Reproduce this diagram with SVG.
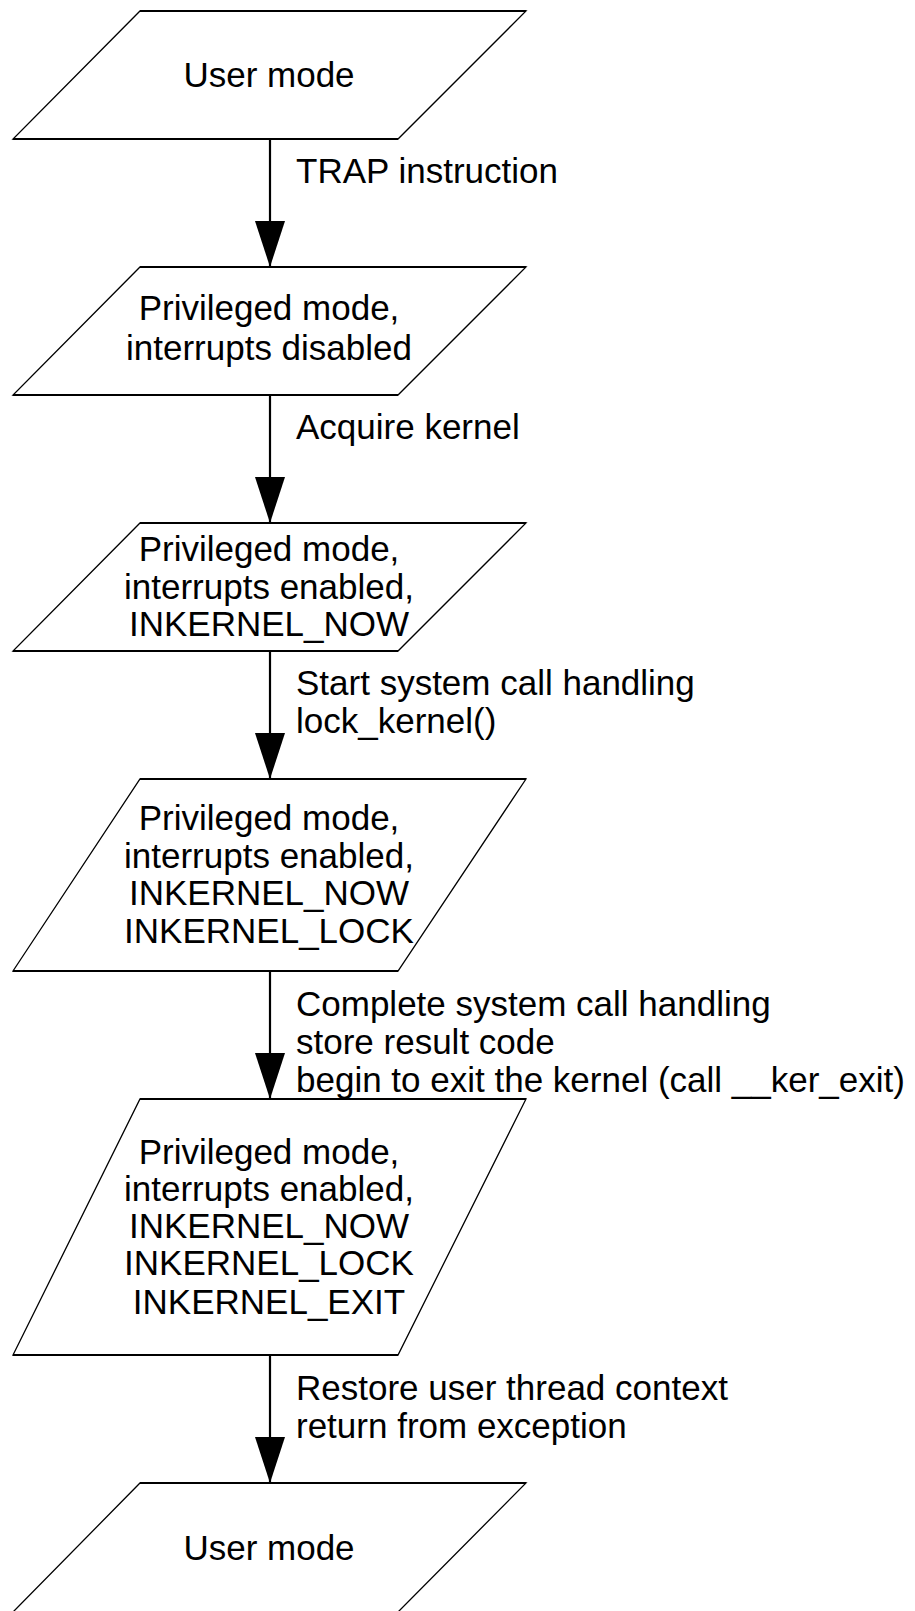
<svg xmlns="http://www.w3.org/2000/svg" width="915" height="1611" viewBox="0 0 915 1611">
<style>
.shape{fill:#fff;stroke:#000;stroke-width:1.3}
.edge{stroke:#000;stroke-width:2.2}
.t{font-family:"Liberation Sans",Arial,sans-serif;font-size:35px;fill:#000;text-anchor:middle}
.l{font-family:"Liberation Sans",Arial,sans-serif;font-size:35px;fill:#000}
.conn{stroke:#000;stroke-width:2.2;fill:none}
.head{fill:#000;stroke:none}
</style>
<rect width="915" height="1611" fill="#fff"/>
<g id="connectors">
<line class="conn" x1="270" y1="139" x2="270" y2="267"/>
<polygon class="head" points="255,221 285,221 270,267"/>
<line class="conn" x1="270" y1="395" x2="270" y2="523"/>
<polygon class="head" points="255,477 285,477 270,523"/>
<line class="conn" x1="270" y1="651" x2="270" y2="779"/>
<polygon class="head" points="255,733 285,733 270,779"/>
<line class="conn" x1="270" y1="971" x2="270" y2="1099"/>
<polygon class="head" points="255,1053 285,1053 270,1099"/>
<line class="conn" x1="270" y1="1355" x2="270" y2="1483"/>
<polygon class="head" points="255,1437 285,1437 270,1483"/>
</g>
<g id="labels">
<text class="l" x="296" y="183">TRAP instruction</text>
<text class="l" x="296" y="439">Acquire kernel</text>
<text class="l" x="296" y="695">Start system call handling</text>
<text class="l" x="296" y="733">lock_kernel()</text>
<text class="l" x="296" y="1016">Complete system call handling</text>
<text class="l" x="296" y="1054">store result code</text>
<text class="l" x="296" y="1092">begin to exit the kernel (call __ker_exit)</text>
<text class="l" x="296" y="1400">Restore user thread context</text>
<text class="l" x="296" y="1438">return from exception</text>
</g>
<g id="node1">
<polygon class="shape" points="140,11 526,11 398,139 13,139"/>
<line class="edge" x1="140" y1="11" x2="526" y2="11"/>
<line class="edge" x1="13" y1="139" x2="398" y2="139"/>
<text class="t" x="269" y="87">User mode</text>
</g>
<g id="node2">
<polygon class="shape" points="140,267 526,267 398,395 13,395"/>
<line class="edge" x1="140" y1="267" x2="526" y2="267"/>
<line class="edge" x1="13" y1="395" x2="398" y2="395"/>
<text class="t" x="269" y="320">Privileged mode,</text>
<text class="t" x="269" y="360">interrupts disabled</text>
</g>
<g id="node3">
<polygon class="shape" points="140,523 526,523 398,651 13,651"/>
<line class="edge" x1="140" y1="523" x2="526" y2="523"/>
<line class="edge" x1="13" y1="651" x2="398" y2="651"/>
<text class="t" x="269" y="561">Privileged mode,</text>
<text class="t" x="269" y="599">interrupts enabled,</text>
<text class="t" x="269" y="636">INKERNEL_NOW</text>
</g>
<g id="node4">
<polygon class="shape" points="140,779 526,779 398,971 13,971"/>
<line class="edge" x1="140" y1="779" x2="526" y2="779"/>
<line class="edge" x1="13" y1="971" x2="398" y2="971"/>
<text class="t" x="269" y="830">Privileged mode,</text>
<text class="t" x="269" y="868">interrupts enabled,</text>
<text class="t" x="269" y="905">INKERNEL_NOW</text>
<text class="t" x="269" y="943">INKERNEL_LOCK</text>
</g>
<g id="node5">
<polygon class="shape" points="140,1099 526,1099 398,1355 13,1355"/>
<line class="edge" x1="140" y1="1099" x2="526" y2="1099"/>
<line class="edge" x1="13" y1="1355" x2="398" y2="1355"/>
<text class="t" x="269" y="1164">Privileged mode,</text>
<text class="t" x="269" y="1201">interrupts enabled,</text>
<text class="t" x="269" y="1238">INKERNEL_NOW</text>
<text class="t" x="269" y="1275">INKERNEL_LOCK</text>
<text class="t" x="269" y="1314">INKERNEL_EXIT</text>
</g>
<g id="node6">
<polygon class="shape" points="140,1483 526,1483 398,1612 13,1612"/>
<line class="edge" x1="140" y1="1483" x2="526" y2="1483"/>
<text class="t" x="269" y="1560">User mode</text>
</g>
</svg>
